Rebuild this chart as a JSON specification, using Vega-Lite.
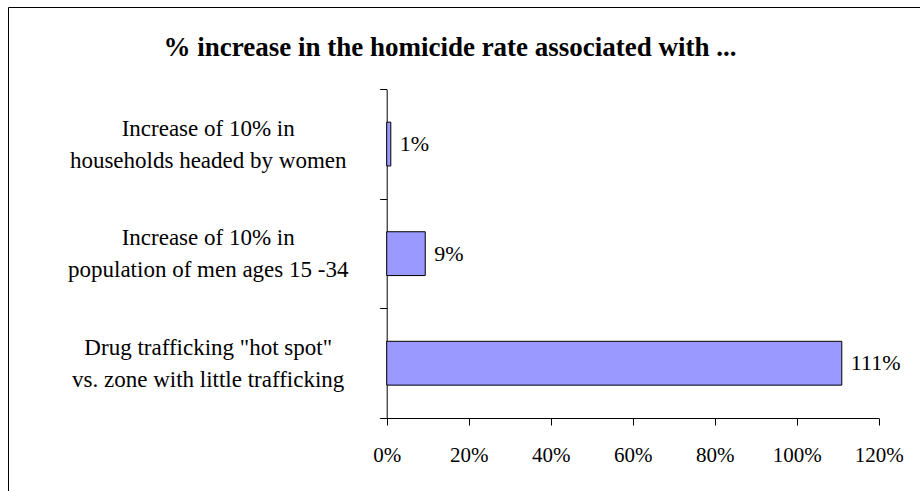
{
  "$schema": "https://vega.github.io/schema/vega-lite/v6.json",
  "width": 920,
  "height": 491,
  "autosize": "none",
  "padding": {"left": 8, "top": 7, "right": 0, "bottom": 0},
  "background": "white",
  "config": {
    "view": {"stroke": "#000", "strokeWidth": 1},
    "font": "Liberation Serif"
  },
  "title": {
    "text": "% increase in the homicide rate associated with ...",
    "font": "Liberation Serif",
    "fontSize": 27,
    "fontWeight": "bold",
    "color": "#000",
    "anchor": "middle",
    "frame": "group",
    "baseline": "middle",
    "offset": -79,
    "dx": -18
  },
  "data": {
    "values": [
      {"cat": "Increase of 10% in|households headed by women", "value": 0.01},
      {"cat": "Increase of 10% in|population of men ages 15 -34", "value": 0.094},
      {"cat": "Drug trafficking \"hot spot\"|vs. zone with little trafficking", "value": 1.11}
    ]
  },
  "encoding": {
    "y": {
      "field": "cat",
      "type": "nominal",
      "sort": null,
      "scale": {"range": [82.3, 411], "paddingInner": 0, "paddingOuter": 0},
      "axis": {
        "orient": "left",
        "offset": -378.7,
        "title": null,
        "grid": false,
        "tickBand": "extent",
        "tickSize": 7,
        "tickColor": "#000",
        "domainColor": "#000",
        "labelAlign": "center",
        "labelBaseline": "middle",
        "labelOffset": -16,
        "labelPadding": 172,
        "labelFont": "Liberation Serif",
        "labelFontSize": 23,
        "labelLineHeight": 32,
        "labelColor": "#000",
        "labelLimit": 0,
        "labelExpr": "indexof(datum.label, 'women') >= 0 ? split(replace('\u00a0\u00a0\u00a0\u00a0\u00a0' + datum.label, '|', '|\u00a0\u00a0\u00a0\u00a0\u00a0'), '|') : split(datum.label, '|')"
      }
    },
    "x": {
      "field": "value",
      "type": "quantitative",
      "scale": {"domain": [0, 1.2], "range": [378.7, 870.7], "nice": false, "zero": true},
      "axis": {
        "orient": "bottom",
        "offset": -80,
        "title": null,
        "grid": false,
        "values": [0, 0.2, 0.4, 0.6, 0.8, 1.0, 1.2],
        "format": ".0%",
        "tickSize": 7,
        "tickColor": "#000",
        "domainColor": "#000",
        "labelFont": "Liberation Serif",
        "labelFontSize": 21,
        "labelColor": "#000",
        "labelPadding": 19,
        "labelFlush": false,
        "labelOverlap": false
      }
    }
  },
  "layer": [
    {
      "mark": {"type": "bar", "height": {"band": 0.4}, "fill": "#9999FF", "stroke": "#000", "strokeWidth": 1}
    },
    {
      "mark": {
        "type": "text",
        "align": "left",
        "baseline": "middle",
        "dx": 9,
        "font": "Liberation Serif",
        "fontSize": 22,
        "color": "#000"
      },
      "encoding": {
        "text": {"field": "value", "type": "quantitative", "format": ".0%"}
      }
    }
  ]
}
